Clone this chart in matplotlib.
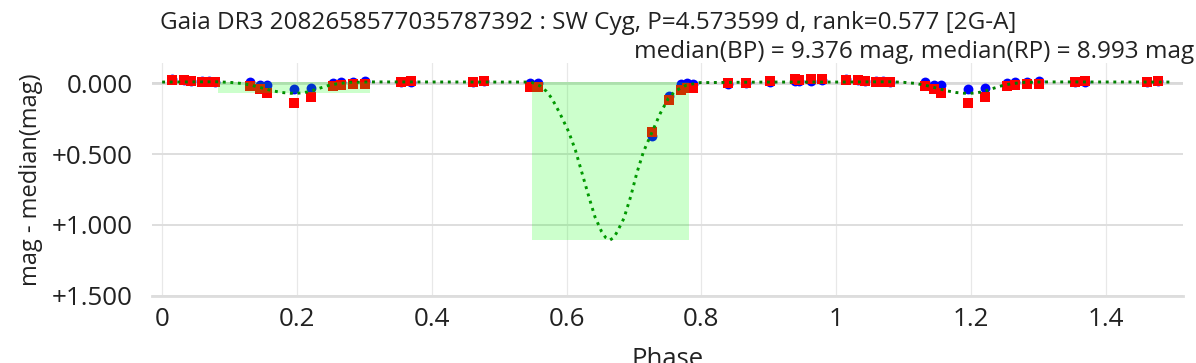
import numpy as np
import matplotlib
matplotlib.use('Agg')
import matplotlib.pyplot as plt
from matplotlib.patches import Rectangle

plt.rcParams['font.family'] = ['Open Sans', 'DejaVu Sans']

# folded phase (0..1) of each epoch, magnitudes relative to the median
phase = [0.015, 0.032, 0.043, 0.059, 0.069, 0.079, 0.131, 0.145, 0.156, 0.196,
         0.221, 0.253, 0.265, 0.283, 0.301, 0.354, 0.369, 0.461, 0.478, 0.546,
         0.558, 0.727, 0.752, 0.769, 0.778, 0.787, 0.840, 0.866, 0.902, 0.939,
         0.945, 0.963, 0.979]
bp = [-0.030, -0.025, -0.020, -0.015, -0.015, -0.010, -0.008, 0.010, 0.009, 0.038,
      0.034, -0.001, -0.011, -0.010, -0.015, -0.013, -0.012, -0.010, -0.020, -0.003,
      -0.003, 0.372, 0.092, 0.002, 0.000, 0.006, 0.005, 0.000, -0.012, -0.020,
      -0.020, -0.020, -0.025]
rp = [-0.025, -0.025, -0.015, -0.013, -0.010, -0.008, 0.020, 0.042, 0.070, 0.138,
      0.097, 0.017, 0.009, 0.002, 0.002, -0.013, -0.018, -0.010, -0.015, 0.022,
      0.022, 0.340, 0.118, 0.044, 0.030, 0.033, -0.001, -0.006, -0.018, -0.032,
      -0.025, -0.032, -0.030]

# two-gaussian model
model_phase = [0.000, 0.080, 0.100, 0.116, 0.130, 0.141, 0.153, 0.165, 0.178, 0.190,
               0.198, 0.210, 0.220, 0.230, 0.240, 0.249, 0.263, 0.279, 0.310, 0.500,
               0.540, 0.548, 0.561, 0.570, 0.578, 0.590, 0.603, 0.613, 0.623, 0.633,
               0.642, 0.652, 0.658, 0.664, 0.670, 0.675, 0.685, 0.695, 0.704, 0.714,
               0.727, 0.739, 0.751, 0.758, 0.764, 0.778, 0.798, 0.900]
model_mag = [-0.010, -0.012, -0.008, -0.001, 0.010, 0.023, 0.038, 0.053, 0.064, 0.069,
             0.070, 0.065, 0.055, 0.039, 0.024, 0.011, 0.000, -0.008, -0.011, -0.010,
             -0.010, -0.008, 0.018, 0.055, 0.105, 0.211, 0.341, 0.471, 0.636, 0.801,
             0.943, 1.049, 1.090, 1.108, 1.090, 1.049, 0.954, 0.801, 0.636, 0.483,
             0.341, 0.211, 0.105, 0.070, 0.046, 0.011, -0.006, -0.010]

# eclipse windows: (start, end, top, bottom)
eclipses = [(0.0835, 0.309, -0.012, 0.070), (0.549, 0.782, -0.011, 1.108)]

title = 'Gaia DR3 2082658577035787392 : SW Cyg, P=4.573599 d, rank=0.577 [2G-A]'
subtitle = 'median(BP) = 9.376 mag, median(RP) = 8.993 mag'

phase = np.array(phase)
bp = np.array(bp)
rp = np.array(rp)
# repeat the fold up to phase 1.5
rep = phase + 1 <= 1.5
ph2 = np.concatenate([phase, phase[rep] + 1])
bp2 = np.concatenate([bp, bp[rep]])
rp2 = np.concatenate([rp, rp[rep]])

mp = np.array(model_phase)
mm = np.array(model_mag)
mrep = mp + 1 <= 1.5
mp2 = np.concatenate([mp, mp[mrep] + 1, [1.5]])
mm2 = np.concatenate([mm, mm[mrep], [mm[mp <= 0.5][-1]]])

fig = plt.figure(figsize=(11.96, 3.63), dpi=100)
ax = fig.add_axes([0.1271, 0.1846, 0.8624, 0.6427])

ax.scatter(ph2, bp2, s=50, marker='o', color='#0000ff', linewidths=0, zorder=3)
ax.scatter(ph2, rp2, s=56, marker='s', color='#ff0000', linewidths=0, zorder=4)
ax.plot(mp2, mm2, ls=(0, (1, 1.6)), lw=2.1, color='#008000', zorder=5)

for x0, x1, y0, y1 in eclipses:
    ax.add_patch(Rectangle((x0, y0), x1 - x0, y1 - y0, facecolor=(0, 1, 0, 0.2),
                           edgecolor='none', zorder=6))

ax.set_xlim(-0.015, 1.515)
ax.set_ylim(1.503, -0.147)
ax.set_xticks([0, 0.2, 0.4, 0.6, 0.8, 1, 1.2, 1.4])
ax.set_xticklabels(['0', '0.2', '0.4', '0.6', '0.8', '1', '1.2', '1.4'])
ax.set_yticks([0, 0.5, 1.0, 1.5])
ax.set_yticklabels(['0.000', '+0.500', '+1.000', '+1.500'])
ax.tick_params(axis='both', length=0, labelsize=18.7, colors='#222222')
ax.tick_params(axis='x', pad=8)
ax.tick_params(axis='y', pad=14)

for s in ['left', 'right', 'top']:
    ax.spines[s].set_visible(False)
ax.spines['bottom'].set_color('#dddddd')
ax.spines['bottom'].set_linewidth(2)
ax.xaxis.grid(True, color='#e8e8e8', lw=0.9, zorder=0)
ax.yaxis.grid(True, color='#dedede', lw=1.4, zorder=0)
ax.axhline(0, color='#d9d9d9', lw=2, zorder=1)
ax.set_axisbelow(True)

ax.set_ylabel('mag - median(mag)', fontsize=17, color='#222222', labelpad=6)
fig.text(0.5585, -0.008, 'Phase', ha='center', va='baseline', fontsize=18.5,
         color='#222222')
fig.text(160 / 1196, 1 - 29 / 363, title, ha='left', va='baseline', fontsize=17.5,
         color='#222222')
fig.text(1194 / 1196, 1 - 58 / 363, subtitle, ha='right', va='baseline',
         fontsize=17.5, color='#222222')

plt.savefig('out.png', dpi=100)
plt.close()
